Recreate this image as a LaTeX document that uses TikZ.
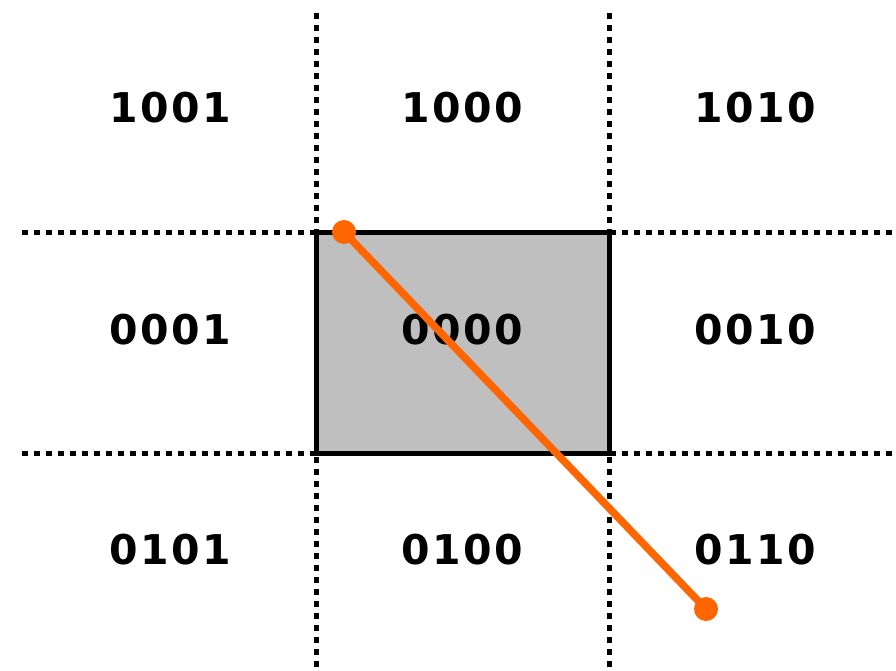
\documentclass[tikz,border=0pt]{standalone}
\usepackage{fontspec}
\setmainfont{DejaVu Sans}
\newfontfamily\codefont[LetterSpace=6]{DejaVu Sans Bold}
\definecolor{seg}{RGB}{255,102,0}
\definecolor{boxgray}{RGB}{191,191,191}
\begin{document}
\begin{tikzpicture}[x=1pt,y=-1pt,
  grid/.style={line width=5pt,dash pattern=on 6pt off 6pt},
  code/.style={font=\codefont\fontsize{41}{45}\selectfont,inner sep=0pt},
  endpt/.style={circle,fill=seg,inner sep=0pt,minimum size=24pt}]
\useasboundingbox (0,0) rectangle (896,671);
\fill[boxgray] (316,232) rectangle (609,453);
\coordinate (v1t) at (316,13); \coordinate (v1b) at (316,671);
\coordinate (v2t) at (609,13); \coordinate (v2b) at (609,671);
\coordinate (h1l) at (22,232); \coordinate (h1r) at (896,232);
\coordinate (h2l) at (22,453); \coordinate (h2r) at (896,453);
\draw[grid] (v1t) -- (v1b);
\draw[grid] (v2t) -- (v2b);
\draw[grid] (h1l) -- (h1r);
\draw[grid] (h2l) -- (h2r);
\draw[line width=5pt] (316,232) rectangle (609,453);
\node[code] (c1001) at (170,108) {1001};
\node[code] (c1000) at (462,108) {1000};
\node[code] (c1010) at (755,108) {1010};
\node[code] (c0001) at (170,330) {0001};
\node[code] (c0000) at (462,330) {0000};
\node[code] (c0010) at (755,330) {0010};
\node[code] (c0101) at (170,550) {0101};
\node[code] (c0100) at (462,550) {0100};
\node[code] (c0110) at (755,550) {0110};
\node[endpt] (p1) at (344,232) {};
\node[endpt] (p2) at (706,609) {};
\draw[seg,line width=7.5pt] (p1.center) -- (p2.center);
\end{tikzpicture}
\end{document}
